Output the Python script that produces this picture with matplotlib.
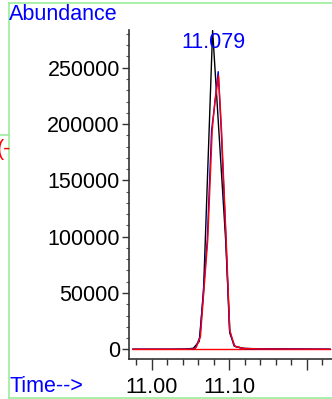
import numpy as np
import matplotlib
matplotlib.use('Agg')
import matplotlib.pyplot as plt
from matplotlib.lines import Line2D

plt.rcParams['font.family'] = ['Liberation Sans', 'DejaVu Sans']

# retention time (min) / abundance
t_black = [10.9759, 11.0236, 11.0442, 11.0536, 11.0613, 11.0667, 11.0785,
           11.0953, 11.1008, 11.1072, 11.1201, 11.1459, 11.1781, 11.2296]
y_black = [0, 0, 200, 900, 7000, 50000, 283000,
           97000, 14000, 2500, 700, 400, 200, 0]

t_blue = [10.9759, 11.0442, 11.0545, 11.0570, 11.0622, 11.0716, 11.0772, 11.0806,
          11.0857, 11.0896, 11.0957, 11.1002, 11.1060, 11.1163, 11.1394, 11.1781, 11.2296]
y_blue = [0, 0, 300, 2000, 11200, 97000, 194700, 214000,
          246500, 194700, 97000, 17000, 3000, 800, 300, 200, 0]

t_red = [10.9759, 11.0442, 11.0551, 11.0576, 11.0628, 11.0722, 11.0780, 11.0812,
         11.0861, 11.0900, 11.0960, 11.1006, 11.1066, 11.1175, 11.1394, 11.1781, 11.2296]
y_red = [0, 0, 300, 2000, 11200, 97000, 194700, 218000,
         243000, 194700, 97000, 17000, 3000, 800, 300, 150, 0]

peak_label = '11.079'
peak_time = 11.0796

fs = 15.5

fig = plt.figure(figsize=(3.32, 3.99), dpi=100)
ax = fig.add_axes([0.390, 0.1003, 0.610, 0.8245])

ax.plot([t_black[0], t_black[-1]], [0, 0], color='red', lw=1.0)
ax.plot(t_black, y_black, color='black', lw=1.0)
ax.plot(t_blue, y_blue, color='blue', lw=1.0)
ax.plot(t_red, y_red, color='red', lw=1.0)

ax.set_xlim(10.9714, 11.2323)
ax.set_ylim(-8600, 283500)

ax.set_yticks(np.arange(0, 250001, 50000))
ax.set_yticks(np.arange(0, 280001, 10000), minor=True)
ax.set_xticks([11.0, 11.1, 11.2])
ax.set_xticklabels(['11.00', '11.10', ''])
ax.set_xticks(np.arange(10.98, 11.23, 0.02), minor=True)

for s in ['top', 'right']:
    ax.spines[s].set_visible(False)
for s in ['left', 'bottom']:
    ax.spines[s].set_color('#333333')
    ax.spines[s].set_linewidth(1.2)

ax.tick_params(axis='y', which='major', length=5, width=1, color='#333333', labelsize=fs, pad=2)
ax.tick_params(axis='y', which='minor', length=2.5, width=0.8, color='#555555')
ax.tick_params(axis='x', which='major', length=8, width=1, color='#333333', labelsize=fs, pad=5)
ax.tick_params(axis='x', which='minor', length=4.5, width=1, color='#333333')

ax.text(peak_time, 272000, peak_label, color='blue', fontsize=fs, ha='center', va='center')

fig.text(9 / 332, 1 - 15 / 399, 'Abundance', color='blue', fontsize=fs, ha='left', va='center')
fig.text(9 / 332, 1 - 387 / 399, 'Time-->', color='blue', fontsize=fs, ha='left', va='center')
fig.text(11 / 332, 1 - 150 / 399, '(-', color='red', fontsize=fs, ha='right', va='center')

green = '#99ee99'
fig.add_artist(Line2D([8.5 / 332, 1.0], [1 - 2.5 / 399] * 2, color=green, lw=1.2))
fig.add_artist(Line2D([8.5 / 332] * 2, [0, 1 - 2.5 / 399], color=green, lw=1.2))
fig.add_artist(Line2D([8.5 / 332, 1.0], [1 - 398 / 399] * 2, color=green, lw=1.2))
fig.add_artist(Line2D([0, 8.5 / 332], [1 - 135 / 399] * 2, color=green, lw=1.2))

fig.savefig('out.png', dpi=100)
